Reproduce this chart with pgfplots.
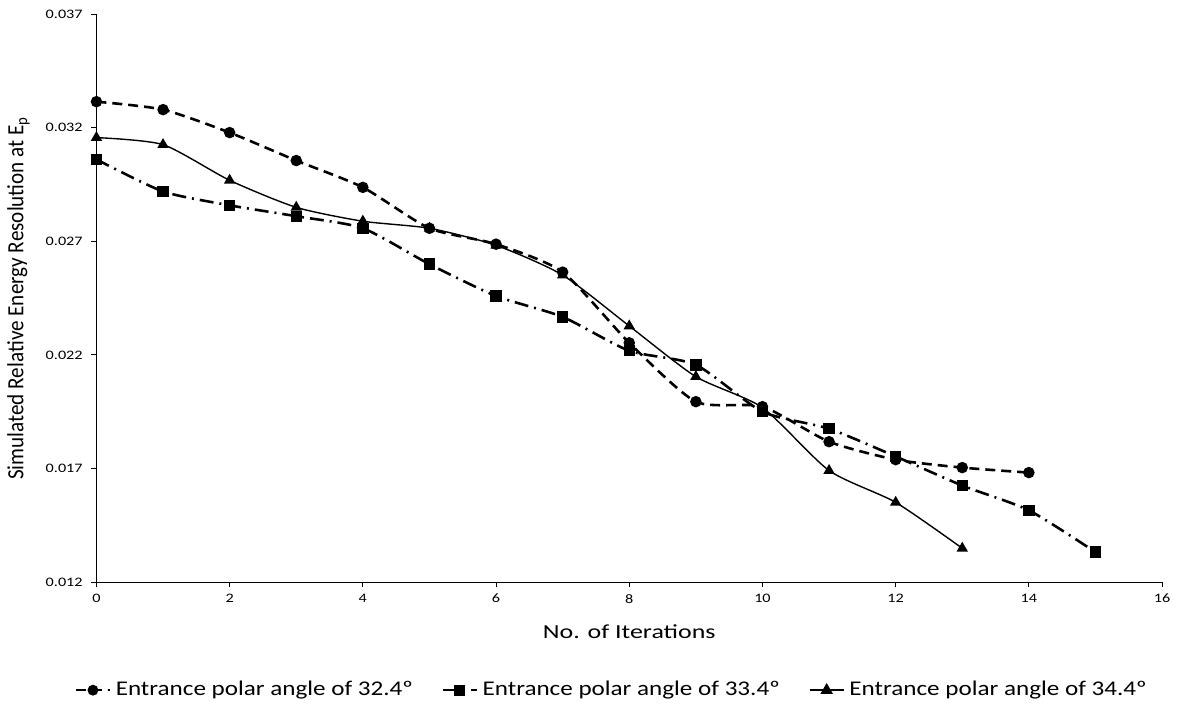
\documentclass[border=0pt]{standalone}
\usepackage{pgfplots}
\pgfplotsset{compat=1.18}
\usepackage{fontspec}
\setmainfont{Carlito}
\begin{document}
\begin{tikzpicture}
\begin{axis}[
    scale only axis,
    width=534.5pt, height=285pt,
    xmin=0, xmax=16, ymin=0.012, ymax=0.037,
    xtick={0,2,...,16},
    ytick={0.012,0.017,0.022,0.027,0.032,0.037},
    axis lines*=left,
    tick align=outside,
    tick style={black, thin},
    major tick length=2.5pt,
    axis line style={black, thin},
    /pgf/number format/assume math mode=true,
    yticklabel style={/pgf/number format/fixed, /pgf/number format/precision=3, /pgf/number format/fixed zerofill},
    scaled y ticks=false,
    tick label style={font=\fontsize{6.5}{8}\selectfont, xscale=1.25},
    xlabel={No. of Iterations},
    ylabel={Simulated Relative Energy Resolution at E$_\mathrm{p}$},
    xlabel style={font=\fontsize{10}{12}\selectfont, xscale=1.3, yshift=-4pt},
    ylabel style={font=\fontsize{10.6}{12}\selectfont, yscale=1.1, yshift=0pt},
    legend style={at={(0.485,-0.16)}, anchor=north, draw=none, legend columns=3,
        font=\fontsize{10.5}{13}\selectfont, nodes={xscale=1.2},
        /tikz/every even column/.append style={column sep=12pt}},
    legend image post style={line width=1pt},
]
\addplot[black, line width=1.3pt, dash pattern=on 5pt off 3pt, smooth, tension=0.4,
    mark=*, mark size=2.2pt, mark options={solid}] coordinates {
    (0,0.03314) (1,0.03279) (2,0.03178) (3,0.03055) (4,0.02937) (5,0.02757)
    (6,0.02687) (7,0.02564) (8,0.02253) (9,0.01994) (10,0.01972) (11,0.01818)
    (12,0.01739) (13,0.01704) (14,0.01682)
};
\addlegendentry{Entrance polar angle of 32.4º}
\addplot[black, line width=1.3pt, dash pattern=on 7pt off 3pt on 1pt off 3pt, smooth, tension=0.4,
    mark=square*, mark size=2.2pt, mark options={solid}] coordinates {
    (0,0.03060) (1,0.02919) (2,0.02858) (3,0.02810) (4,0.02757) (5,0.02599)
    (6,0.02459) (7,0.02367) (8,0.02218) (9,0.02156) (10,0.01950) (11,0.01875)
    (12,0.01753) (13,0.01625) (14,0.01516) (15,0.01332)
};
\addlegendentry{Entrance polar angle of 33.4º}
\addplot[black, line width=0.7pt, smooth, tension=0.4,
    mark=triangle*, mark size=2.6pt, mark options={solid}] coordinates {
    (0,0.03156) (1,0.03125) (2,0.02968) (3,0.02849) (4,0.02788) (5,0.02757)
    (6,0.02682) (7,0.02551) (8,0.02327) (9,0.02104) (10,0.01968) (11,0.01691)
    (12,0.01551) (13,0.01349)
};
\addlegendentry{Entrance polar angle of 34.4º}
\end{axis}
\path ([xshift=-46.5pt,yshift=7pt]current axis.north west) rectangle ([xshift=10pt,yshift=-63.5pt]current axis.south east);
\end{tikzpicture}
\end{document}
